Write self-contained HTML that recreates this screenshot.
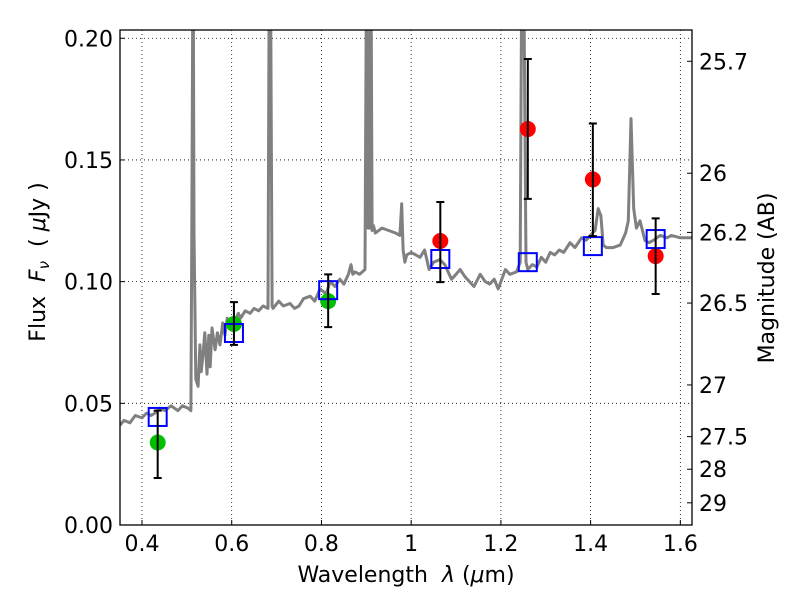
<!DOCTYPE html>
<html><head><meta charset="utf-8"><style>
html,body{margin:0;padding:0;background:#fff;width:800px;height:600px;overflow:hidden}
svg{font-family:"DejaVu Sans","Liberation Sans",sans-serif}
text{white-space:pre}
</style></head><body>
<svg id="chart" width="800" height="600" viewBox="0 0 800 600" xmlns="http://www.w3.org/2000/svg">
<rect x="0" y="0" width="800" height="600" fill="#fff"/>
<defs><clipPath id="pc"><rect x="120" y="30" width="572" height="495"/></clipPath></defs>
<g id="grid"></g>
<g id="spec" clip-path="url(#pc)"></g>
<g id="marks" clip-path="url(#pc)"></g>
<rect x="120" y="30" width="572" height="495" fill="none" stroke="#000" stroke-width="1.3"/>
<g id="axes"></g>
<text x="406" y="582" font-size="22" text-anchor="middle">Wavelength  <tspan font-style="italic">λ</tspan> (<tspan font-style="italic">μ</tspan>m)</text>
<text transform="translate(45,262) rotate(-90)" font-size="22" text-anchor="middle">Flux  <tspan font-style="italic">F</tspan><tspan font-style="italic" font-size="15" dy="4">ν</tspan><tspan dy="-4">  ( </tspan><tspan font-style="italic">μ</tspan>Jy )</text>
<text transform="translate(774,278) rotate(-90)" font-size="22" text-anchor="middle">Magnitude (AB)</text>
</svg>
<script>
const xTicks=[0.4,0.6,0.8,1.0,1.2,1.4,1.6];
const xTickLabels=["0.4","0.6","0.8","1","1.2","1.4","1.6"];
const yTicks=[0,0.05,0.10,0.15,0.20];
const yTickLabels=["0.00","0.05","0.10","0.15","0.20"];
const magTicks=[25.7,26,26.2,26.5,27,27.5,28,29];
const magLabels=["25.7","26","26.2","26.5","27","27.5","28","29"];
const specWl=[0.351,0.36,0.373,0.385,0.4,0.41,0.42,0.429,0.44,0.451,0.465,0.48,0.49,0.503,0.509,0.511,0.514,0.516,0.52,0.525,0.529,0.532,0.536,0.54,0.545,0.549,0.552,0.556,0.563,0.568,0.574,0.58,0.585,0.59,0.596,0.607,0.615,0.62,0.63,0.641,0.65,0.66,0.67,0.681,0.684,0.686,0.69,0.692,0.705,0.715,0.73,0.74,0.75,0.76,0.775,0.785,0.797,0.81,0.82,0.83,0.841,0.85,0.86,0.866,0.87,0.875,0.885,0.897,0.901,0.904,0.907,0.91,0.913,0.916,0.92,0.935,0.95,0.965,0.975,0.979,0.982,0.986,0.99,1.0,1.02,1.03,1.04,1.05,1.064,1.075,1.09,1.1,1.109,1.12,1.13,1.14,1.154,1.165,1.175,1.185,1.194,1.2,1.21,1.22,1.235,1.243,1.247,1.25,1.256,1.26,1.27,1.28,1.29,1.3,1.31,1.32,1.33,1.34,1.354,1.365,1.38,1.39,1.399,1.41,1.417,1.423,1.428,1.435,1.45,1.466,1.478,1.484,1.49,1.496,1.502,1.51,1.521,1.53,1.54,1.555,1.57,1.58,1.6,1.626];
const specFlux=[0.041,0.043,0.042,0.045,0.044,0.046,0.045,0.046,0.048,0.047,0.049,0.047,0.049,0.048,0.047,0.12,0.25,0.12,0.06,0.057,0.074,0.063,0.07,0.079,0.062,0.078,0.065,0.081,0.072,0.079,0.074,0.083,0.078,0.085,0.081,0.084,0.087,0.085,0.088,0.087,0.089,0.088,0.09,0.089,0.25,0.25,0.09,0.089,0.092,0.09,0.091,0.089,0.09,0.093,0.094,0.092,0.097,0.095,0.1,0.098,0.101,0.099,0.103,0.107,0.103,0.104,0.103,0.105,0.25,0.122,0.122,0.25,0.121,0.123,0.12,0.122,0.121,0.12,0.119,0.132,0.113,0.108,0.111,0.112,0.11,0.113,0.105,0.108,0.109,0.107,0.101,0.103,0.105,0.102,0.1,0.098,0.103,0.1,0.099,0.101,0.097,0.1,0.105,0.103,0.104,0.108,0.25,0.25,0.108,0.105,0.107,0.106,0.11,0.108,0.112,0.111,0.113,0.112,0.116,0.114,0.118,0.117,0.119,0.121,0.13,0.127,0.115,0.114,0.114,0.115,0.12,0.125,0.167,0.13,0.122,0.125,0.117,0.116,0.117,0.119,0.118,0.119,0.118,0.118];
const photWl=[0.435,0.605,0.815,1.065,1.26,1.405,1.545];
const photFlux=[0.0339,0.0826,0.092,0.1167,0.1627,0.142,0.1105];
const photLo=[0.0193,0.074,0.0813,0.0998,0.134,0.1187,0.0949];
const photHi=[0.047,0.0916,0.103,0.1327,0.1915,0.165,0.126];
const photColor=["#00c000","#00c000","#00c000","#ff0000","#ff0000","#ff0000","#ff0000"];
const modelFlux=[0.0444,0.0789,0.0965,0.1093,0.108,0.1146,0.1175];

const NS="http://www.w3.org/2000/svg";
const X0=120,X1=692,Y0=525,Y1=30;
const xmin=0.351,xmax=1.626,ymin=0,ymax=0.2034;
function sx(v){return X0+(v-xmin)/(xmax-xmin)*(X1-X0);}
function sy(v){return Y0-(v-ymin)/(ymax-ymin)*(Y0-Y1);}
function mk(tag,attrs,parent){const e=document.createElementNS(NS,tag);for(const k in attrs)e.setAttribute(k,attrs[k]);parent.appendChild(e);return e;}
const grid=document.getElementById('grid'),axes=document.getElementById('axes');
xTicks.forEach((t,i)=>{
  const x=sx(t);
  const g=mk('line',{x1:x,x2:x,y1:Y1,y2:Y0,stroke:'#000','stroke-width':0.8,'stroke-dasharray':'1,3'},grid);
  
  
  const tk=mk('line',{x1:x,x2:x,y1:Y0,y2:Y0-5,stroke:'#000'},axes);
  
  
  const tl=mk('text',{x:x,y:Y0+26,'font-size':22,'text-anchor':'middle'},axes);
  tl.textContent=xTickLabels[i];
  
  
});
yTicks.forEach((t,i)=>{
  const y=sy(t);
  const g=mk('line',{x1:X0,x2:X1,y1:y,y2:y,stroke:'#000','stroke-width':0.8,'stroke-dasharray':'1,3'},grid);
  
  
  const tk=mk('line',{x1:X0,x2:X0+5,y1:y,y2:y,stroke:'#000'},axes);
  
  
  const tl=mk('text',{x:X0-7,y:y+8,'font-size':22,'text-anchor':'end'},axes);
  tl.textContent=yTickLabels[i];
  
  
});
magTicks.forEach((m,i)=>{
  const f=Math.pow(10,-(m-23.9)/2.5);
  const y=sy(f);
  const tk=mk('line',{x1:X1-5,x2:X1,y1:y,y2:y,stroke:'#000'},axes);
  
  
  const tl=mk('text',{x:X1+7,y:y+8,'font-size':22,'text-anchor':'start'},axes);
  tl.textContent=magLabels[i];
  
  
});
const spec=document.getElementById('spec');
const pts=specWl.map((w,i)=>sx(w).toFixed(1)+','+sy(specFlux[i]).toFixed(1)).join(' ');
const pl=mk('polyline',{points:pts,fill:'none',stroke:'#808080','stroke-width':3,'stroke-linejoin':'round'},spec);


const marks=document.getElementById('marks');
photWl.forEach((w,i)=>{
  const x=sx(w);
  const c=mk('circle',{cx:x,cy:sy(photFlux[i]),r:8,fill:photColor[i]},marks);
  
  
});
photWl.forEach((w,i)=>{
  const x=sx(w);
  const s=mk('rect',{x:x-9,y:sy(modelFlux[i])-9,width:18,height:18,fill:'none',stroke:'#0000ff','stroke-width':2},marks);
  
  
});
photWl.forEach((w,i)=>{
  const x=sx(w),ya=sy(photLo[i]),yb=sy(photHi[i]);
  const e=mk('path',{d:`M${x},${ya}V${yb}M${x-4},${ya}H${x+4}M${x-4},${yb}H${x+4}`,stroke:'#000','stroke-width':2,fill:'none'},marks);
  
  
});
</script>
</body></html>
